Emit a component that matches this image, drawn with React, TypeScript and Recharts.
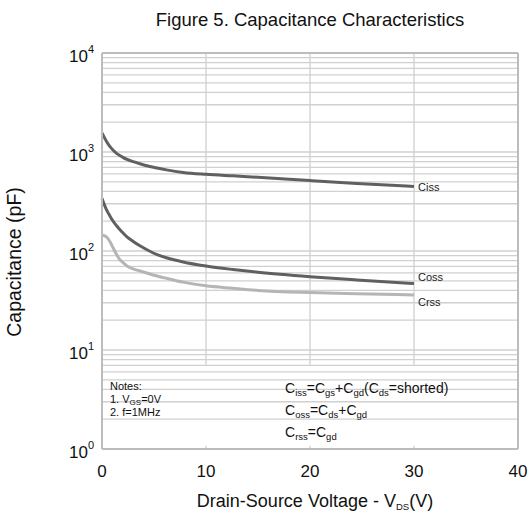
import React from "react";
import {
    LineChart,
    Line,
    XAxis,
    YAxis,
    CartesianGrid,
    ReferenceLine,
    ReferenceArea,
} from "recharts";

// drain-source voltage (V)
const vds = [0, 0.45, 0.77, 1.1, 1.4, 1.75, 2.05, 2.4, 3, 3.65, 4.6, 5.3, 6.2, 7.8, 10, 12.6, 15, 20, 24.5, 30];
// capacitance (pF)
const ciss = [1560, 1270, 1132, 1035, 968, 918, 878, 842, 798, 760, 713, 688, 660, 622, 595, 574, 556, 515, 482, 448];
const coss = [340, 259, 225, 198, 180, 163, 151, 139, 125, 113, 99.5, 92, 85.5, 77.5, 70.5, 65, 61, 55, 51, 47];
const crss = [145, 138, 124, 106, 92, 81, 76, 70.5, 66, 62.8, 58.5, 55.9, 53, 48.5, 44.5, 42, 40, 38, 37, 36];

const xTicks = [0, 10, 20, 30, 40];
const yTicks = [1, 10, 100, 1000, 10000];
const decades = [1, 10, 100, 1000];
const minorSteps = [2, 3, 4, 5, 6, 7, 8, 9];

const series = [
    { key: "Ciss", values: ciss, color: "#606060", dy: 4 },
    { key: "Coss", values: coss, color: "#606060", dy: -2 },
    { key: "Crss", values: crss, color: "#b5b5b5", dy: 11 },
];

const data = vds.map((v, i) => ({
    vds: v,
    Ciss: ciss[i],
    Coss: coss[i],
    Crss: crss[i],
}));

const minorLines = decades.flatMap((d) => minorSteps.map((m) => d * m));

const font = "'Liberation Sans', Arial, Helvetica, sans-serif";
const gridColor = "#d0d0d0";
const borderColor = "#bcbcbc";

function YTick(props: any) {
    const { x, y, payload } = props;
    const exp = Math.round(Math.log10(payload.value));
    return (
        <text x={x - 8} y={y + 9} textAnchor="end" fontSize={17} fill="#111" fontFamily={font}>
            10
            <tspan fontSize={11} dy={-9}>
                {exp}
            </tspan>
        </text>
    );
}

function XTick(props: any) {
    const { x, y, payload } = props;
    return (
        <text x={x} y={y + 28} textAnchor="middle" fontSize={17} fill="#111" fontFamily={font}>
            {payload.value}
        </text>
    );
}

function endLabel(name: string, count: number, dy: number) {
    return (props: any) => {
        const { x, y, index } = props;
        if (index !== count - 1) return null;
        return (
            <text key={name} x={x + 4} y={y + dy} fontSize={11} fill="#222" fontFamily={font}>
                {name}
            </text>
        );
    };
}

function Sub({ children }: { children: React.ReactNode }) {
    return (
        <tspan fontSize={9.5} dy={3}>
            {children}
        </tspan>
    );
}

function Up({ children }: { children: React.ReactNode }) {
    return <tspan dy={-3}>{children}</tspan>;
}

export default function App() {
    return (
        <div style={{ position: "relative", width: 530, height: 525, background: "#fff", fontFamily: font }}>
            <style>{"body{margin:0}"}</style>
            <LineChart
                width={530}
                height={525}
                data={data}
                margin={{ top: 53, right: 12, bottom: 46, left: 42 }}
            >
                <CartesianGrid stroke={gridColor} strokeWidth={1.3} />
                {minorLines.map((v) => (
                    <ReferenceLine key={v} y={v} stroke={gridColor} strokeWidth={1.3} />
                ))}
                <ReferenceArea
                    x1={0.2}
                    x2={39.8}
                    y1={1.08}
                    y2={7.1}
                    fill="#ffffff"
                    fillOpacity={1}
                    stroke="none"
                />
                <ReferenceLine x={40} stroke={borderColor} strokeWidth={2} />
                <ReferenceLine y={10000} stroke={borderColor} strokeWidth={2} />
                <XAxis
                    dataKey="vds"
                    type="number"
                    domain={[0, 40]}
                    ticks={xTicks}
                    tick={<XTick />}
                    tickLine={false}
                    tickSize={0}
                    tickMargin={0}
                    axisLine={{ stroke: borderColor, strokeWidth: 2 }}
                    height={30}
                />
                <YAxis
                    type="number"
                    scale="log"
                    domain={[1, 10000]}
                    ticks={yTicks}
                    allowDataOverflow
                    tick={<YTick />}
                    tickLine={false}
                    tickSize={0}
                    tickMargin={0}
                    axisLine={{ stroke: borderColor, strokeWidth: 2 }}
                    width={60}
                />
                {series.map((s) => (
                    <Line
                        key={s.key}
                        dataKey={s.key}
                        type="monotone"
                        stroke={s.color}
                        strokeWidth={3}
                        dot={false}
                        isAnimationActive={false}
                        label={endLabel(s.key, s.values.length, s.dy)}
                    />
                ))}
            </LineChart>
            <svg
                width={530}
                height={525}
                style={{ position: "absolute", left: 0, top: 0, pointerEvents: "none" }}
                fontFamily={font}
                fill="#111"
            >
                <text x={310} y={26} textAnchor="middle" fontSize={18.5}>
                    Figure 5. Capacitance Characteristics
                </text>
                <text x={315} y={507} textAnchor="middle" fontSize={18}>
                    Drain-Source Voltage - V<Sub>DS</Sub>
                    <Up>(V)</Up>
                </text>
                <text x={21} y={262} textAnchor="middle" fontSize={19.5} transform="rotate(-90 21 262)">
                    Capacitance (pF)
                </text>
                <g fontSize={11}>
                    <text x={110} y={390}>Notes:</text>
                    <text x={110} y={403}>
                        1. V<tspan fontSize={8} dy={2}>GS</tspan>
                        <tspan dy={-2}>=0V</tspan>
                    </text>
                    <text x={110} y={416}>2. f=1MHz</text>
                </g>
                <g fontSize={14}>
                    <text x={285} y={393}>
                        C<Sub>iss</Sub>
                        <Up>=C</Up>
                        <Sub>gs</Sub>
                        <Up>+C</Up>
                        <Sub>gd</Sub>
                        <Up>(C</Up>
                        <Sub>ds</Sub>
                        <Up>=shorted)</Up>
                    </text>
                    <text x={285} y={415}>
                        C<Sub>oss</Sub>
                        <Up>=C</Up>
                        <Sub>ds</Sub>
                        <Up>+C</Up>
                        <Sub>gd</Sub>
                    </text>
                    <text x={285} y={437}>
                        C<Sub>rss</Sub>
                        <Up>=C</Up>
                        <Sub>gd</Sub>
                    </text>
                </g>
            </svg>
        </div>
    );
}
